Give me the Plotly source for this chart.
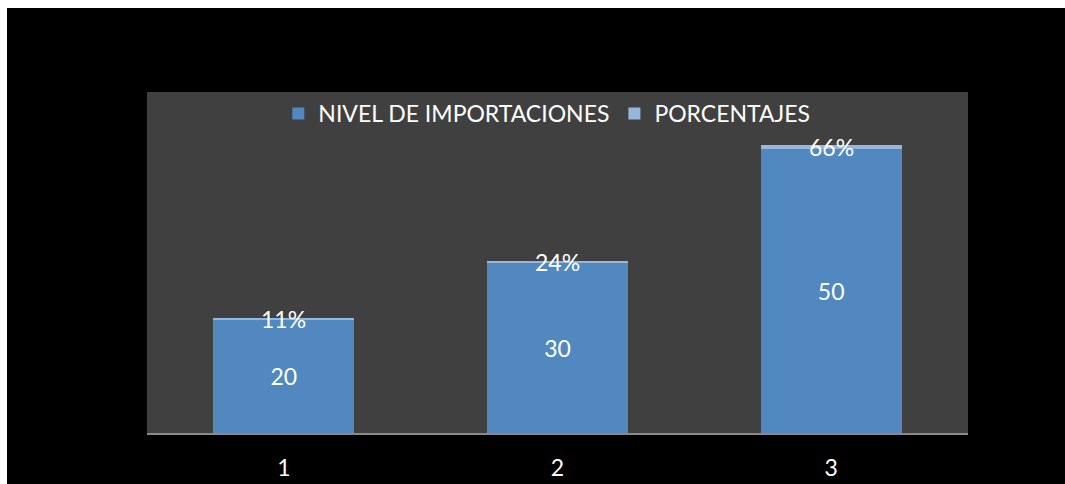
import plotly.graph_objects as go

# Chart data
categories = [1, 2, 3]
category_labels = ["1", "2", "3"]
nivel_importaciones = [20, 30, 50]
porcentajes = [0.11, 0.24, 0.66]
series_names = ["NIVEL DE IMPORTACIONES", "PORCENTAJES"]

FONT = "Lato, Calibri, Carlito, sans-serif"
BLUE = "#5188c0"
LIGHT_BLUE = "#95b7de"

fig = go.Figure()

fig.add_trace(go.Bar(
    x=categories,
    y=nivel_importaciones,
    name=series_names[0],
    marker=dict(color=BLUE, line=dict(width=0)),
    text=[str(v) for v in nivel_importaciones],
    textposition="inside",
    insidetextanchor="middle",
    textfont=dict(color="white", size=23, family=FONT),
    hoverinfo="skip",
))

fig.add_trace(go.Bar(
    x=categories,
    y=porcentajes,
    name=series_names[1],
    marker=dict(color=LIGHT_BLUE, line=dict(width=0)),
    hoverinfo="skip",
))

# Percentage labels centred on the thin stacked segment
for cat, base, pct in zip(categories, nivel_importaciones, porcentajes):
    fig.add_annotation(
        x=cat, y=base + pct / 2,
        text=f"{round(pct * 100)}%",
        showarrow=False,
        xanchor="center", yanchor="middle",
        font=dict(color="white", size=23, family=FONT),
    )

# White margin strips around the black chart area
fig.add_shape(type="rect", xref="paper", yref="paper",
              x0=-0.2, x1=1.2, y0=(433 - 8) / 341, y1=(433 + 2) / 341,
              fillcolor="white", line=dict(width=0), layer="above")
fig.add_shape(type="rect", xref="paper", yref="paper",
              x0=(-2 - 147) / 821, x1=(7 - 147) / 821, y0=-0.2, y1=1.3,
              fillcolor="white", line=dict(width=0), layer="above")

fig.update_layout(
    width=1065,
    height=484,
    barmode="stack",
    bargap=0.485,
    paper_bgcolor="black",
    plot_bgcolor="#404040",
    margin=dict(l=147, r=97, t=92, b=51, autoexpand=False),
    showlegend=True,
    legend=dict(
        orientation="h",
        x=0.487, xanchor="center",
        y=1.0, yanchor="top",
        bgcolor="rgba(0,0,0,0)",
        font=dict(color="white", size=23, family=FONT),
        itemwidth=30,
        traceorder="normal",
    ),
    xaxis=dict(
        range=[0.5, 3.5],
        tickmode="array",
        tickvals=categories,
        ticktext=category_labels,
        automargin=False,
        showgrid=False,
        showline=True,
        linecolor="#8a8a8a",
        linewidth=2,
        ticks="",
        ticklabelstandoff=13,
        tickfont=dict(color="white", size=23, family=FONT),
        zeroline=False,
    ),
    yaxis=dict(
        range=[0, 60],
        automargin=False,
        showgrid=False,
        showticklabels=False,
        zeroline=False,
        showline=False,
    ),
)

fig.write_html("out.html")
